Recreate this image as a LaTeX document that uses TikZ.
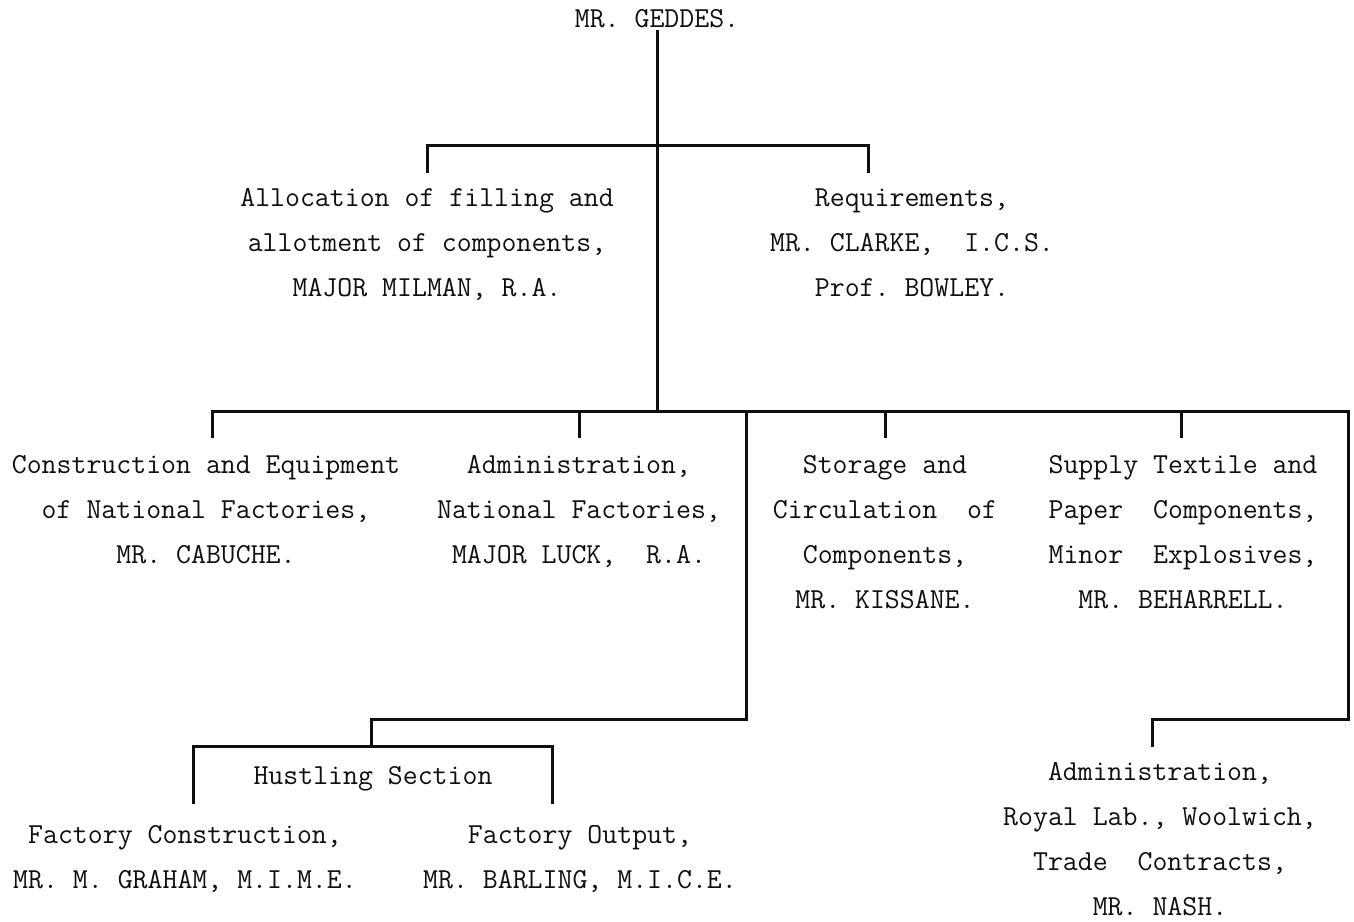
\documentclass[tikz,border=0pt]{standalone}
\usepackage{fontspec}
\usepackage{tikz}
\definecolor{ink}{RGB}{15,15,15}
\tikzset{
  unit/.style={inner sep=2pt,anchor=base,align=center,text=ink,
    font=\ttfamily\fontsize{29}{44.7}\selectfont\frenchspacing},
  wire/.style={draw=ink,line width=3pt},
}

\begin{document}
\begin{tikzpicture}[x=1pt,y=-1pt]
  \useasboundingbox (0,0) rectangle (1354,921);
  % chief and staff (base = last line)
  \node[unit] (geddes) at (657,27) {MR. GEDDES.};
  \node[unit] (alloc) at (427,296) {Allocation of filling and\\allotment of components,\\MAJOR MILMAN, R.A.};
  \node[unit] (req) at (912,296) {Requirements,\\MR. CLARKE,\ \ I.C.S.\\Prof. BOWLEY.};
  % departments
  \node[unit] (cons) at (206,563) {Construction and Equipment\\of National Factories,\\MR. CABUCHE.};
  \node[unit] (adm) at (579,563) {Administration,\\National Factories,\\MAJOR LUCK,\ \ R.A.};
  \node[unit] (stor) at (885,608) {Storage and\\Circulation\ \ of\\Components,\\MR. KISSANE.};
  \node[unit] (supp) at (1183,608) {Supply Textile and\\Paper\ \ Components,\\Minor\ \ Explosives,\\MR. BEHARRELL.};
  % sub-sections
  \node[unit] (hust) at (373,784) {Hustling Section};
  \node[unit] (fcon) at (185,888) {Factory Construction,\\MR. M. GRAHAM, M.I.M.E.};
  \node[unit] (fout) at (580,888) {Factory Output,\\MR. BARLING, M.I.C.E.};
  \node[unit] (nash) at (1160,915) {Administration,\\Royal Lab., Woolwich,\\Trade\ \ Contracts,\\MR. NASH.};
  % junctions
  \coordinate (j1) at (657,145);
  \coordinate (a1) at (427,173);
  \coordinate (r1) at (868,173);
  \coordinate (j2) at (657,411);
  \coordinate (d1) at (212,438);
  \coordinate (d2) at (579,438);
  \coordinate (d3) at (885,438);
  \coordinate (d4) at (1181,438);
  \coordinate (re) at (1348,411);
  \coordinate (rb) at (1348,719);
  \coordinate (n1) at (1152,747);
  \coordinate (hs) at (746,411);
  \coordinate (lb) at (746,719);
  \coordinate (h1) at (371,746);
  \coordinate (hl) at (193,804);
  \coordinate (hr) at (552,804);
  % lines
  \draw[wire] (geddes) -- (j2);
  \draw[wire] (a1) |- (j1) -| (r1);
  \draw[wire] (d1) |- (re) -- (rb) -| (n1);
  \foreach \p in {d2,d3,d4} \draw[wire] (\p) -- (\p |- re);
  \draw[wire] (hs) -- (lb) -| (h1);
  \draw[wire] (hl) |- (h1) -| (hr);
\end{tikzpicture}
\end{document}
